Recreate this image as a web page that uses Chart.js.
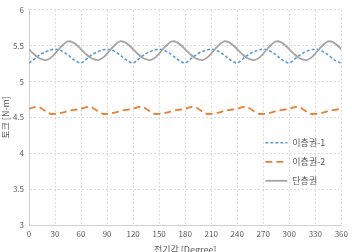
<!DOCTYPE html>
<html>
<head>
<meta charset="utf-8">
<script src="https://cdn.jsdelivr.net/npm/chart.js@4"></script>
<style>
  html, body { margin: 0; padding: 0; background: #fff; }
  canvas { display: block; }
</style>
</head>
<body>
<canvas id="myChart" width="352" height="252"></canvas>
<script>
// angle [deg]
var angles = [0,5,10,15,20,25,30,35,40,45,50,55,
  60,65,70,75,80,85,90,95,100,105,110,115,
  120,125,130,135,140,145,150,155,160,165,170,175,
  180,185,190,195,200,205,210,215,220,225,230,235,
  240,245,250,255,260,265,270,275,280,285,290,295,
  300,305,310,315,320,325,330,335,340,345,350,355,
  360];

// 이층권-1
var layer2a = [5.26,5.30,5.35,5.39,5.42,5.44,5.45,5.44,5.41,5.37,5.32,5.28,
  5.26,5.30,5.35,5.39,5.42,5.44,5.45,5.44,5.41,5.37,5.32,5.28,
  5.26,5.30,5.35,5.39,5.42,5.44,5.45,5.44,5.41,5.37,5.32,5.28,
  5.26,5.30,5.35,5.39,5.42,5.44,5.45,5.44,5.41,5.37,5.32,5.28,
  5.26,5.30,5.35,5.39,5.42,5.44,5.45,5.44,5.41,5.37,5.32,5.28,
  5.26,5.30,5.35,5.39,5.42,5.44,5.45,5.44,5.41,5.37,5.32,5.28,
  5.26];

// 이층권-2
var layer2b = [4.62,4.64,4.65,4.62,4.58,4.55,4.55,4.56,4.57,4.59,4.60,4.61,
  4.62,4.64,4.65,4.62,4.58,4.55,4.55,4.56,4.57,4.59,4.60,4.61,
  4.62,4.64,4.65,4.62,4.58,4.55,4.55,4.56,4.57,4.59,4.60,4.61,
  4.62,4.64,4.65,4.62,4.58,4.55,4.55,4.56,4.57,4.59,4.60,4.61,
  4.62,4.64,4.65,4.62,4.58,4.55,4.55,4.56,4.57,4.59,4.60,4.61,
  4.62,4.64,4.65,4.62,4.58,4.55,4.55,4.56,4.57,4.59,4.60,4.61,
  4.62];

// 단층권
var layer1 = [5.45,5.39,5.34,5.31,5.30,5.33,5.39,5.46,5.52,5.56,5.55,5.51,
  5.45,5.39,5.34,5.31,5.30,5.33,5.39,5.46,5.52,5.56,5.55,5.51,
  5.45,5.39,5.34,5.31,5.30,5.33,5.39,5.46,5.52,5.56,5.55,5.51,
  5.45,5.39,5.34,5.31,5.30,5.33,5.39,5.46,5.52,5.56,5.55,5.51,
  5.45,5.39,5.34,5.31,5.30,5.33,5.39,5.46,5.52,5.56,5.55,5.51,
  5.45,5.39,5.34,5.31,5.30,5.33,5.39,5.46,5.52,5.56,5.55,5.51,
  5.45];

var seriesNames = ["이층권-1", "이층권-2", "단층권"];

function toPoints(ys) {
    return angles.map(function(a, i) { return {x: a, y: ys[i]}; });
}

var fontFam = "'Noto Sans CJK KR', 'Noto Sans', sans-serif";
var textColor = "#595959";
var gridColor = "#dcdcdc";

// legend drawn inside the plot area, right side
var insideLegend = {
    id: "insideLegend",
    afterDraw: function(chart) {
        var c = chart.ctx;
        var area = chart.chartArea;
        var x0 = area.right - 76;
        var y0 = area.top + 133;
        c.save();
        c.font = "9px " + fontFam;
        c.textBaseline = "middle";
        chart.data.datasets.forEach(function(ds, i) {
            var y = y0 + i * 19;
            c.beginPath();
            c.strokeStyle = ds.borderColor;
            c.lineWidth = ds.borderWidth;
            c.setLineDash(ds.borderDash || []);
            c.moveTo(x0, y);
            c.lineTo(x0 + 22, y);
            c.stroke();
            c.setLineDash([]);
            c.fillStyle = textColor;
            c.fillText(ds.label, x0 + 27, y);
        });
        c.restore();
    }
};

const ctx = document.getElementById("myChart");
var myChart = new Chart(ctx, {
    type: "line",
    data: {
        datasets: [{
            label: seriesNames[0],
            data: toPoints(layer2a),
            borderColor: "#5b9bd5",
            borderWidth: 1.6,
            borderDash: [3, 2],
            order: 3
        },
        {
            label: seriesNames[1],
            data: toPoints(layer2b),
            borderColor: "#ed7d31",
            borderWidth: 1.8,
            borderDash: [7, 4],
            order: 2
        },
        {
            label: seriesNames[2],
            data: toPoints(layer1),
            borderColor: "#a5a5a5",
            borderWidth: 1.8,
            order: 1
        }]
    },
    options: {
        responsive: false,
        animation: false,
        devicePixelRatio: 1,
        layout: { padding: { left: 0, right: 10, top: 8, bottom: 0 } },
        elements: {
            point: { radius: 0 },
            line: { tension: 0.4, fill: false }
        },
        plugins: {
            legend: { display: false },
            tooltip: { enabled: false }
        },
        scales: {
            x: {
                type: "linear",
                min: 0,
                max: 360,
                afterFit: function(s) { s.height = 27; },
                ticks: {
                    stepSize: 30,
                    color: textColor,
                    font: { size: 8, family: fontFam },
                    padding: 4,
                    maxRotation: 0
                },
                grid: { color: gridColor, drawTicks: false },
                border: { color: "#d0d0d0", dash: [2, 2] },
                title: {
                    display: true,
                    text: "전기각 [Degree]",
                    color: textColor,
                    font: { size: 9, family: fontFam },
                    padding: { top: 0, bottom: -3 }
                }
            },
            y: {
                min: 3,
                max: 6,
                afterFit: function(s) { s.width = 29; },
                ticks: {
                    stepSize: 0.5,
                    color: textColor,
                    font: { size: 8, family: fontFam },
                    padding: 5,
                    callback: function(v) { return String(Math.round(v * 10) / 10); }
                },
                grid: { color: gridColor, drawTicks: false },
                border: { color: "#d0d0d0", dash: [2, 2] },
                title: {
                    display: true,
                    text: "토크 [N-m]",
                    color: textColor,
                    font: { size: 9, family: fontFam },
                    padding: { top: 0, bottom: 0 }
                }
            }
        }
    },
    plugins: [insideLegend]
});
</script>
</body>
</html>
